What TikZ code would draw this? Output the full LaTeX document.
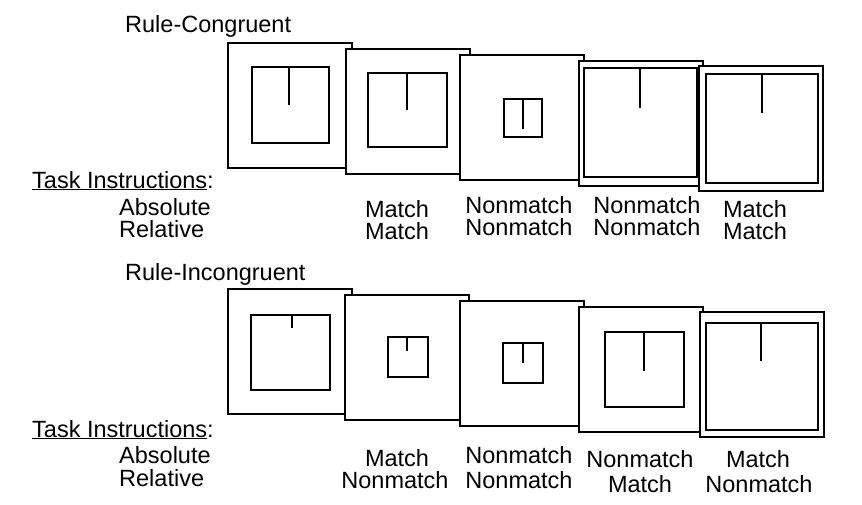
\documentclass[tikz,border=0pt]{standalone}
\usepackage{fontspec}
\setmainfont{Liberation Sans}
\newcommand{\stimulus}[8]{%
  \draw[framebox] (#1,#2) rectangle ++(124,125);
  \draw[innerbox] (#3,#4) rectangle (#5,#6);
  \draw[barline] (#7,#4) -- (#7,#8);}
\begin{document}
\begin{tikzpicture}[x=1pt,y=-1pt,
  framebox/.style={draw=black,fill=white,line width=2.2pt},
  innerbox/.style={draw=black,line width=2.5pt},
  barline/.style={draw=black,line width=2.5pt},
  lab/.style={inner sep=0pt,anchor=base,font=\fontsize{23.5}{28}\selectfont},
  labw/.style={lab,anchor=base west}]
\useasboundingbox[fill=white] (0,0) rectangle (862,504);

% Row 1: Rule-Congruent
\stimulus{228}{43}{252}{67}{329}{143}{289}{105}
\stimulus{346}{49}{368}{73}{447}{147}{407}{110}
\stimulus{460}{55}{504}{99}{542}{137}{523}{129}
\stimulus{579}{61}{584}{68}{697}{177}{640}{108}
\stimulus{699}{66}{706}{74}{818}{183}{762}{113}

% Row 2: Rule-Incongruent
\stimulus{228}{289}{251}{315}{330}{390}{292}{328}
\stimulus{345}{295}{388}{337}{428}{377}{407}{351}
\stimulus{460}{301}{503}{343}{543}{383}{523}{363}
\stimulus{579}{307}{605}{332}{684}{407}{644}{371}
\stimulus{700}{312}{706}{323}{818}{430}{761}{361}

% Texts row 1
\node[labw] (rc) at (125,32) {Rule-Congruent};
\node[labw] (ti1) at (32,188) {\underline{Task Instructions}:};
\node[labw] (abs1) at (119,215) {Absolute};
\node[labw] (rel1) at (119,237) {Relative};
\node[lab] (a12) at (397,217) {Match};
\node[lab] (r12) at (397,239) {Match};
\node[lab] (a13) at (519,213) {Nonmatch};
\node[lab] (r13) at (519,235) {Nonmatch};
\node[lab] (a14) at (647,213) {Nonmatch};
\node[lab] (r14) at (647,235) {Nonmatch};
\node[lab] (a15) at (755,217) {Match};
\node[lab] (r15) at (755,239) {Match};

% Texts row 2
\node[labw] (ri) at (125,280) {Rule-Incongruent};
\node[labw] (ti2) at (32,437) {\underline{Task Instructions}:};
\node[labw] (abs2) at (119,463) {Absolute};
\node[labw] (rel2) at (119,486) {Relative};
\node[lab] (a22) at (397,466) {Match};
\node[lab] (r22) at (395,488) {Nonmatch};
\node[lab] (a23) at (519,463) {Nonmatch};
\node[lab] (r23) at (519,488) {Nonmatch};
\node[lab] (a24) at (640,467) {Nonmatch};
\node[lab] (r24) at (640,492) {Match};
\node[lab] (a25) at (758,467) {Match};
\node[lab] (r25) at (759,492) {Nonmatch};
\end{tikzpicture}
\end{document}
